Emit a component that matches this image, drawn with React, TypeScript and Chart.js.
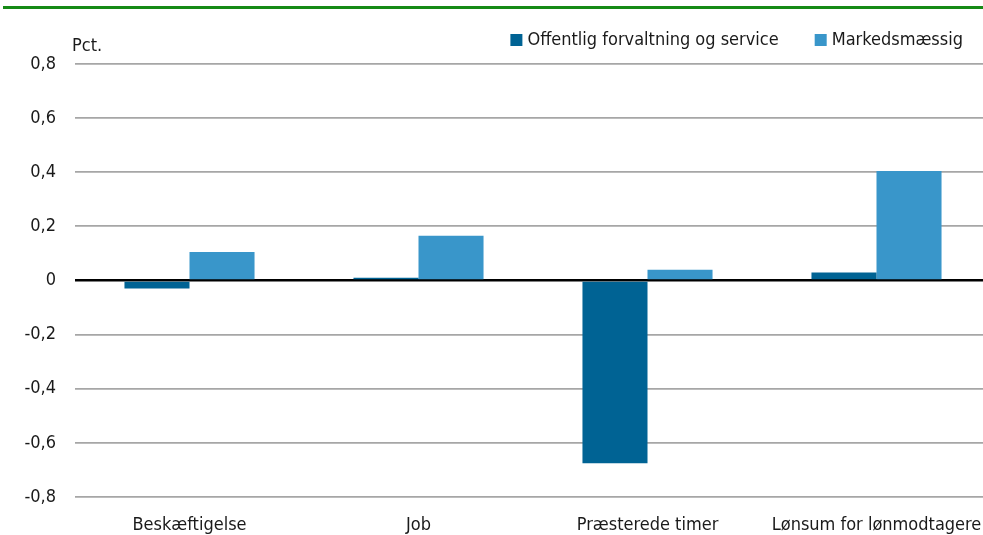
import React, { useEffect, useRef } from "react";
import { Chart, registerables } from "chart.js";

Chart.register(...registerables);

const categories = ["Beskæftigelse", "Job", "Præsterede timer", "Lønsum for lønmodtagere"];
const offentligValues = [-0.03, 0.01, -0.675, 0.03];
const markedsValues = [0.105, 0.165, 0.04, 0.405];
const seriesLabels = ["Offentlig forvaltning og service", "Markedsmæssig"];
const seriesColors = ["#006394", "#3996CA"];
const yTicks = [-0.8, -0.6, -0.4, -0.2, 0, 0.2, 0.4, 0.6, 0.8];
const yUnit = "Pct.";

const FONT = '"Liberation Sans Narrow", "DejaVu Sans Condensed", "Noto Sans", sans-serif';

const fmt = (v: number) => (Math.abs(v) < 1e-9 ? "0" : v.toFixed(1).replace(".", ","));

const overlayPlugin = {
  id: "overlay",
  afterDraw(chart: any) {
    const ctx = chart.ctx;
    const area = chart.chartArea;
    ctx.save();
    ctx.font = `18px ${FONT}`;
    ctx.fillStyle = "#1a1a1a";
    ctx.textBaseline = "middle";
    // unit label
    ctx.textAlign = "left";
    ctx.fillText(yUnit, area.left - 3, area.top - 18);
    // legend (right aligned, inside the visible window)
    const box = 12;
    const gapBoxText = 5;
    const gapItems = 36;
    const y = area.top - 24;
    const items = chart.data.datasets.map((d: any) => ({
      label: d.label,
      color: d.backgroundColor,
      w: ctx.measureText(d.label).width,
    }));
    let x = area.right - 28;
    for (let i = items.length - 1; i >= 0; i--) {
      const it = items[i];
      const textX = x - it.w;
      ctx.fillStyle = "#1a1a1a";
      ctx.fillText(it.label, textX, y);
      ctx.fillStyle = it.color;
      ctx.fillRect(textX - gapBoxText - box, y - box / 2, box, box);
      x = textX - gapBoxText - box - gapItems;
    }
    ctx.restore();
  },
};

export default function App() {
  const ref = useRef<HTMLCanvasElement>(null);
  useEffect(() => {
    const chart = new Chart(ref.current!, {
      type: "bar",
      data: {
        labels: categories,
        datasets: [
          { label: seriesLabels[0], data: offentligValues, backgroundColor: seriesColors[0] },
          { label: seriesLabels[1], data: markedsValues, backgroundColor: seriesColors[1] },
        ],
      },
      plugins: [overlayPlugin],
      options: {
        animation: false,
        responsive: true,
        maintainAspectRatio: false,
        layout: { padding: { top: 64, left: 0, right: 0, bottom: 0 } },
        plugins: { legend: { display: false }, tooltip: { enabled: false } },
        datasets: { bar: { barPercentage: 1, categoryPercentage: 0.568 } },
        scales: {
          x: {
            grid: { display: false, drawTicks: false },
            border: { display: false },
            ticks: { color: "#1a1a1a", font: { family: FONT, size: 18 }, padding: 18, maxRotation: 0 },
            afterFit: (s: any) => { s.height = 38; s.paddingLeft = 0; s.paddingRight = 0; },
          },
          y: {
            min: -0.8,
            max: 0.8,
            afterBuildTicks: (s: any) => { s.ticks = yTicks.map((v) => ({ value: v })); },
            grid: {
              drawTicks: false,
              color: (c: any) => (c.tick && Math.abs(c.tick.value) < 1e-9 ? "#000000" : "#A6A6A6"),
              lineWidth: (c: any) => (c.tick && Math.abs(c.tick.value) < 1e-9 ? 2.5 : 1.8),
            },
            border: { display: false },
            ticks: {
              color: "#1a1a1a",
              font: { family: FONT, size: 18 },
              padding: 19,
              callback: (v: any) => fmt(Number(v)),
            },
            afterFit: (s: any) => { s.width = 75; },
          },
        },
      },
    } as any);
    return () => chart.destroy();
  }, []);
  return (
    <div style={{ position: "fixed", left: 0, top: 0, width: 983, height: 535, background: "#fff", overflow: "hidden" }}>
      <div style={{ position: "absolute", left: 3, right: 0, top: 6, height: 3, background: "#168A16" }} />
      <div style={{ position: "absolute", left: 0, top: 0, width: 991, height: 535 }}>
        <canvas ref={ref} />
      </div>
    </div>
  );
}
